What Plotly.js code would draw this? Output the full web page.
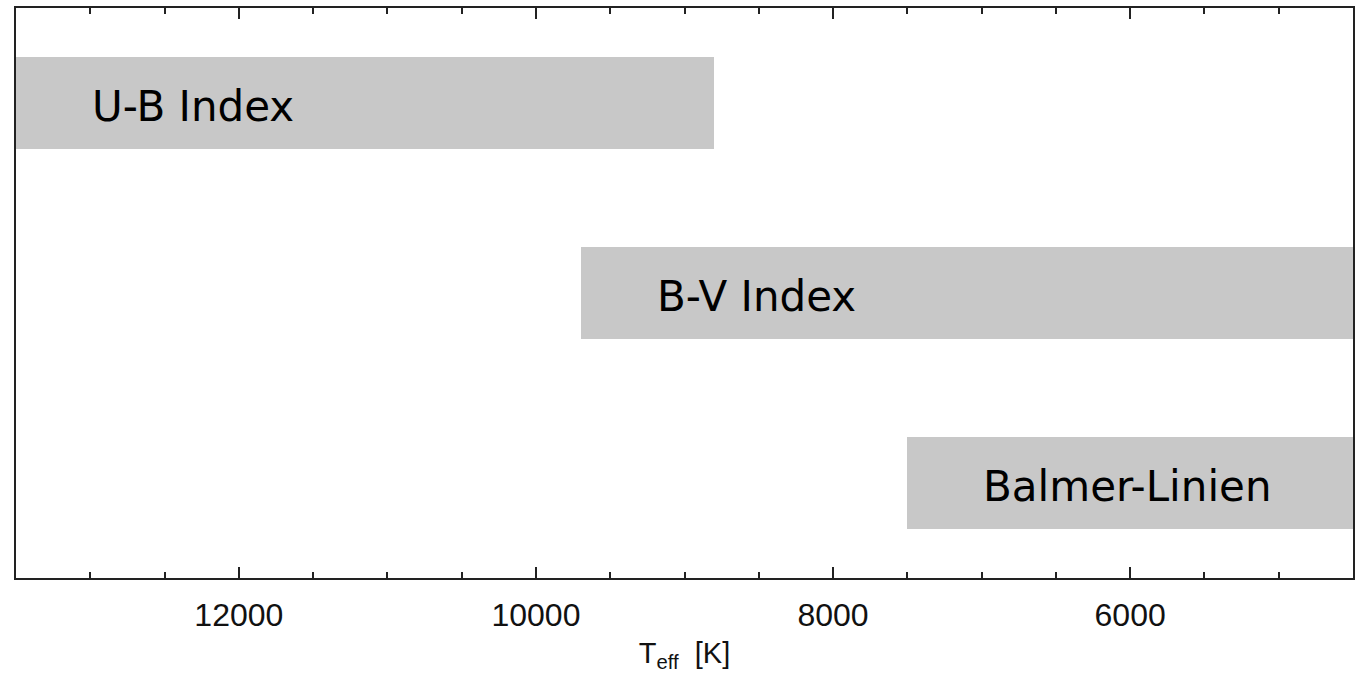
<!DOCTYPE html>
<html>
<head>
<meta charset="utf-8">
<script src="https://cdn.plot.ly/plotly-3.0.1.min.js"></script>
<style>
  html, body { margin: 0; padding: 0; background: #fff; }
  #chart { width: 1356px; height: 673px; }
</style>
</head>
<body>
<div id="chart"></div>
<script>
// Temperature ranges (K) over which each indicator is usable
const bands = ['U-B Index', 'B-V Index', 'Balmer-Linien'];
const tHigh = [13500, 9700, 7500];
const tLow = [8800, 4500, 4500];
const rows = [2.5, 1.5, 0.5];

const trace = {
  type: 'bar',
  orientation: 'h',
  y: rows,
  base: tHigh,
  x: tHigh.map((h, i) => tLow[i] - h),
  width: 0.485,
  marker: { color: '#c8c8c8', line: { width: 0 } },
  hoverinfo: 'skip',
  showlegend: false
};

const labelFont = { family: 'DejaVu Sans, sans-serif', size: 42, color: '#000' };
const annotations = bands.map((name, i) => ({
  x: tHigh[i], y: rows[i], xref: 'x', yref: 'y',
  text: name, showarrow: false,
  xanchor: 'left', yanchor: 'middle', xshift: 74, yshift: -3,
  font: labelFont
}));

const layout = {
  width: 1356, height: 673,
  margin: { l: 16, r: 3, t: 8, b: 95 },
  paper_bgcolor: '#fff', plot_bgcolor: '#fff',
  bargap: 0,
  xaxis: {
    range: [13500, 4500],
    tick0: 0, dtick: 2000,
    ticks: 'inside', ticklen: 11, tickwidth: 2, tickcolor: '#222',
    minor: { dtick: 500, ticks: 'inside', ticklen: 6, tickwidth: 2, tickcolor: '#222' },
    showline: true, linecolor: '#222', linewidth: 2, mirror: 'ticks',
    showgrid: false, zeroline: false,
    layer: 'below traces',
    ticklabelstandoff: 8,
    tickfont: { family: 'Liberation Sans, Arial, sans-serif', size: 32, color: '#111' },
    tickformat: 'd',
    title: { text: 'T<sub>eff</sub>  [K]', font: { family: 'Liberation Sans, Arial, sans-serif', size: 29, color: '#111' }, standoff: 10 }
  },
  yaxis: {
    range: [0, 3],
    showticklabels: false, ticks: '',
    showline: true, linecolor: '#222', linewidth: 2, mirror: true,
    showgrid: false, zeroline: false,
    layer: 'below traces'
  },
  annotations: annotations
};

Plotly.newPlot('chart', [trace], layout, { displayModeBar: false, staticPlot: true });
</script>
</body>
</html>
